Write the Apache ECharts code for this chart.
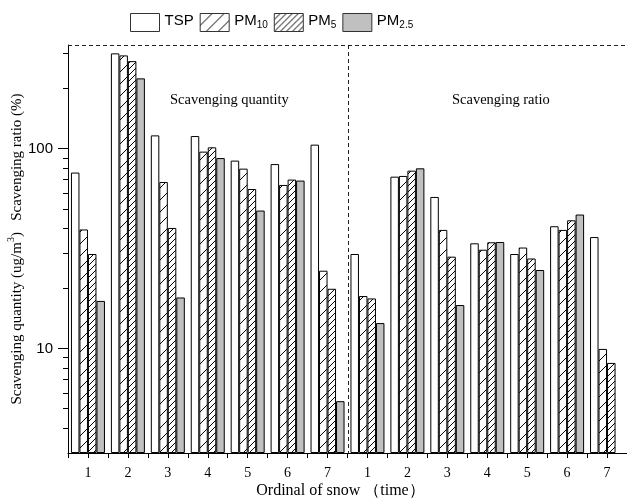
<!DOCTYPE html>
<html>
<head>
<meta charset="utf-8">
<script src="https://cdn.jsdelivr.net/npm/echarts@6/dist/echarts.min.js"></script>
<style>html,body{margin:0;padding:0;background:#fff;}#c{width:627px;height:499px;}</style>
</head>
<body>
<div id="c"></div>
<script>
const categories = ['1','2','3','4','5','6','7','1','2','3','4','5','6','7'];
const seriesNames = ['TSP','PM10','PM5','PM2.5'];
const tsp  = [75.9, 299.6, 116.5, 115.6, 87.1, 83.7, 104.7, 29.7, 72.4, 57.3, 33.6, 29.7, 40.9, 36.1];
const pm10 = [39.4, 292.7, 68.1, 96.6, 79.4, 65.8, 24.5, 18.3, 73.0, 39.2, 31.2, 32.0, 39.2, 9.95];
const pm5  = [29.7, 274.0, 40.1, 101.5, 62.8, 70.0, 19.9, 17.8, 77.6, 28.8, 34.0, 28.2, 43.8, 8.47];
const pm25 = [17.3, 224.7, 18.0, 89.7, 49.0, 69.2, 5.45, 13.4, 79.7, 16.5, 34.1, 24.7, 46.8, null];
const yMin = 3, yMax = 330;
const majorTicks = [10, 100];
const minorTicks = [4,5,6,7,8,9,20,30,40,50,60,70,80,90,200,300];
const sectionLabels = ['Scavenging quantity', 'Scavenging ratio'];
const sectionSplitIndex = 7;

const SANS = 'Liberation Sans, Arial, sans-serif';
const SERIF = 'Liberation Serif, Times New Roman, serif';

function hatch(size, lw) {
  const c = document.createElement('canvas');
  c.width = size; c.height = size;
  const g = c.getContext('2d');
  g.fillStyle = '#fff'; g.fillRect(0, 0, size, size);
  g.strokeStyle = '#000'; g.lineWidth = lw;
  g.beginPath();
  g.moveTo(-1, size + 1); g.lineTo(size + 1, -1);
  g.moveTo(-size / 2 - 1, size / 2 + 1); g.lineTo(size / 2 + 1, -size / 2 - 1);
  g.moveTo(size / 2 - 1, size * 1.5 + 1); g.lineTo(size * 1.5 + 1, size / 2 - 1);
  g.stroke();
  return c;
}
const fills = ['#ffffff', {image: hatch(12, 1), repeat: 'repeat'}, {image: hatch(6, 1), repeat: 'repeat'}, '#c0c0c0'];
const datas = [tsp, pm10, pm5, pm25];

const chart = echarts.init(document.getElementById('c'), null, {renderer: 'canvas'});
const legendLabel = {
  'TSP': '{n|TSP}', 'PM10': '{n|PM}{s|10}', 'PM5': '{n|PM}{s|5}', 'PM2.5': '{n|PM}{s|2.5}'
};
const series = seriesNames.map((nm, i) => ({
  name: nm,
  type: 'bar',
  data: datas[i],
  barWidth: 8.5,
  barGap: '0%',
  clip: true,
  itemStyle: {color: fills[i], borderColor: '#000', borderWidth: 1},
  emphasis: {disabled: true}
}));
series[0].markLine = {
  silent: true, symbol: 'none', label: {show: false},
  lineStyle: {type: [4, 3], color: '#222', width: 1},
  data: [{yAxis: yMax}]
};

const GRID = {left: 68, right: 0, top: 45, bottom: 46};

chart.setOption({
  animation: false,
  backgroundColor: '#fff',
  legend: {
    left: 125, top: 8,
    icon: 'rect',
    itemWidth: 29, itemHeight: 18, itemGap: 6,
    data: seriesNames,
    formatter: n => legendLabel[n],
    textStyle: {
      color: '#000', fontFamily: SANS, fontSize: 15,
      rich: {
        n: {fontFamily: SANS, fontSize: 15, color: '#000', padding: [0, 0, 4, 0]},
        s: {fontFamily: SANS, fontSize: 10, color: '#000', padding: [6, 0, 0, 0]}
      }
    },
    itemStyle: {borderColor: '#333', borderWidth: 1}
  },
  grid: Object.assign({containLabel: false, outerBoundsMode: 'none'}, GRID),
  xAxis: [{
    type: 'category',
    data: categories,
    axisLine: {lineStyle: {color: '#000', width: 1}},
    axisTick: {show: true, interval: 0, length: 5, lineStyle: {color: '#000'}},
    axisLabel: {interval: 0, color: '#000', fontFamily: SERIF, fontSize: 14, margin: 13},
    splitLine: {show: false},
    name: 'Ordinal of snow （time）',
    nameLocation: 'middle',
    nameGap: 30,
    nameMoveOverlap: false,
    nameTextStyle: {color: '#000', fontFamily: SERIF, fontSize: 16, padding: [0, 14, 0, 0]}
  }, {
    type: 'category',
    data: categories,
    position: 'bottom',
    axisLine: {show: false},
    axisTick: {show: true, alignWithLabel: true, interval: 0, length: 5, lineStyle: {color: '#000'}},
    axisLabel: {show: false},
    splitLine: {show: false}
  }],
  yAxis: [{
    type: 'log', logBase: 10, min: yMin, max: yMax, startValue: yMin,
    axisLine: {show: true, lineStyle: {color: '#000', width: 1}},
    axisTick: {show: true, length: 10, customValues: majorTicks, lineStyle: {color: '#000'}},
    axisLabel: {customValues: majorTicks, color: '#000', fontFamily: SANS, fontSize: 15, margin: 15},
    splitLine: {show: false},
    name: '{t|Scavenging quantity (ug/m}{sup|3}{t|)}   {t|Scavenging ratio (%)}',
    nameLocation: 'middle',
    nameGap: 43,
    nameRotate: 90,
    nameMoveOverlap: false,
    nameTextStyle: {
      color: '#000', fontFamily: SERIF, fontSize: 15,
      rich: {
        t: {fontFamily: SERIF, fontSize: 15, color: '#000', padding: [6, 0, 0, 0]},
        sup: {fontFamily: SERIF, fontSize: 10, color: '#000', padding: [0, 0, 6, 0]}
      }
    }
  }, {
    type: 'log', logBase: 10, min: yMin, max: yMax, position: 'left', offset: 0,
    axisLine: {show: false},
    axisTick: {show: true, length: 5, customValues: minorTicks, lineStyle: {color: '#000'}},
    axisLabel: {show: false},
    splitLine: {show: false}
  }],
  series: series
});

// section separator (dashed) between the two groups, placed via the axis scale
const xa = chart.convertToPixel({xAxisIndex: 0}, sectionSplitIndex - 1);
const xb = chart.convertToPixel({xAxisIndex: 0}, sectionSplitIndex);
const xSplit = Math.round((xa + xb) / 2) + 0.5;
const yTop = chart.convertToPixel({yAxisIndex: 0}, yMax);
const yBot = chart.convertToPixel({yAxisIndex: 0}, yMin);
chart.setOption({
  graphic: [
    {type: 'line', silent: true, shape: {x1: xSplit, y1: yTop, x2: xSplit, y2: yBot},
     style: {stroke: '#222', lineWidth: 1, lineDash: [4, 3]}},
    {type: 'text', left: 170, top: 93, style: {text: sectionLabels[0], font: '14.5px ' + SERIF, fill: '#000'}},
    {type: 'text', left: 452, top: 93, style: {text: sectionLabels[1], font: '14.5px ' + SERIF, fill: '#000'}}
  ]
});
</script>
</body>
</html>
